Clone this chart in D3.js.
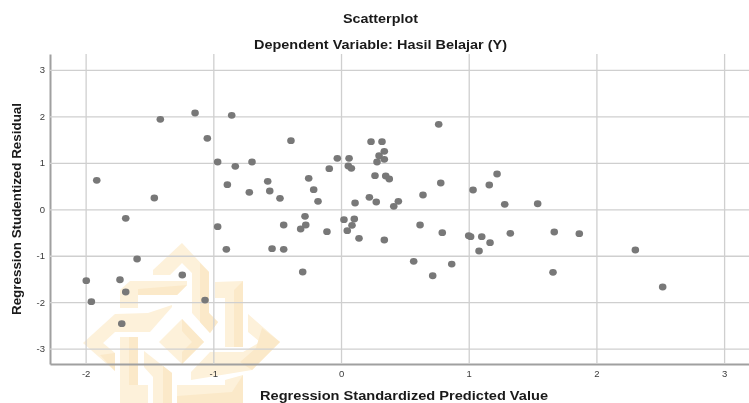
<!DOCTYPE html>
<html><head><meta charset="utf-8">
<script src="https://cdn.jsdelivr.net/npm/d3@7"></script>
<style>
html,body{margin:0;padding:0;background:#fff}
svg{display:block;filter:blur(0.4px)}
text{font-family:"Liberation Sans",Arial,sans-serif}
</style></head><body>
<svg id="c" width="749" height="403"></svg>
<script>
const titleLines = ["Scatterplot", "Dependent Variable: Hasil Belajar (Y)"];
const xLabel = "Regression Standardized Predicted Value";
const yLabel = "Regression Studentized Residual";
const xTicks = [-2, -1, 0, 1, 2, 3];
const yTicks = [-3, -2, -1, 0, 1, 2, 3];
const predicted = [
 -1.913,-1.415,-1.143,-0.856,-1.047,-0.392,0.235,0.321,0.339,0.298,0.339,0.282,0.765,1.222,1.161,1.034,0.781,0.642,0.35,0.378,0.266,
 -0.029,0.063,0.057,0.081,-0.092,-0.253,-0.214,-0.478,-0.18,0.11,0.222,0.276,0.449,0.413,
 -0.966,-0.828,-0.697,-0.89,-0.718,-0.574,-0.558,-1.462,
 -0.282,-0.449,-0.276,-0.316,-0.11,0.023,0.104,0.086,0.049,0.141,0.339,0.619,0.569,-0.54,-0.449,-0.3,
 -1.686,-0.966,-0.898,-1.597,-1.243,-1.995,-1.731,-1.686,-1.955,-1.065,-1.717,
 0.793,1.0,1.015,1.102,1.167,1.081,1.326,1.67,1.866,2.305,1.66,2.519,0.718,0.867,1.282,1.54
];
const residual = [
 0.624,1.937,2.073,2.023,1.528,1.477,1.455,1.455,1.248,1.154,1.076,1.018,1.83,0.76,0.523,0.416,0.566,0.308,0.717,0.652,0.723,
 1.098,1.098,0.932,0.883,0.874,0.667,0.422,0.237,0.172,0.136,0.258,0.157,0.172,0.065,
 1.018,0.926,1.018,0.53,0.366,0.603,0.394,0.243,
 -0.151,-0.338,-0.338,-0.424,-0.482,-0.224,-0.209,-0.344,-0.461,-0.624,-0.661,-0.338,-1.12,-0.848,-0.861,-1.35,
 -0.194,-0.375,-0.861,-1.07,-1.414,-1.537,-1.516,-1.78,-1.989,-1.953,-2.463,
 -0.504,-0.568,-0.59,-0.59,-0.719,-0.898,-0.517,-0.489,-0.525,-0.876,-1.356,-1.673,-1.43,-1.178,0.108,0.12
];
// Background watermark outlines, in the picture's own pixels (decoration, not data)
const watermark = [
 [[153,270],[182,243],[209,272],[209,313],[218,322],[210,333],[192,313],[192,273],[182,263],[170,275],[153,275]],
 [[120,290],[130,281],[187,281],[187,285],[177,295],[138,295],[138,308],[120,308]],
 [[215,282],[243,281],[243,347],[225,347],[225,298],[215,298]],
 [[248,314],[280,342],[252,370],[191,380],[191,372],[210,352],[243,352],[260,342],[248,332]],
 [[83,343],[115,314],[148,313],[172,305],[172,307],[150,332],[115,332],[103,343],[115,353],[115,371]],
 [[182,319],[204,342],[182,364],[159,342]],
 [[120,337],[138,337],[138,385],[148,385],[148,403],[120,403]],
 [[144,351],[172,373],[172,403],[153,403],[153,377],[144,367]],
 [[177,385],[225,385],[225,380],[243,375],[243,403],[177,403]]
];
const watermarkShade = [
 [[200,263],[209,272],[209,313],[218,322],[210,333],[200,322]],
 [[138,289],[187,285],[177,295],[138,295]],
 [[234,290],[243,281],[243,347],[234,347]],
 [[262,328],[280,342],[252,370],[240,362],[256,348]],
 [[182,319],[204,342],[182,364],[182,352],[192,342],[182,331]],
 [[129,337],[138,337],[138,385],[129,385]],
 [[163,366],[172,373],[172,403],[163,403]],
 [[100,355],[115,353],[115,371]],
 [[177,396],[232,392],[243,375],[243,403],[177,403]]
];

const W = 749, H = 403, M = {l: 50, r: 749, t: 54, b: 364};
const x = d3.scaleLinear().domain([-2.279, 3.195]).range([M.l, M.r]);
const y = d3.scaleLinear().domain([-3.33, 3.343]).range([M.b, M.t]);
const tickFmt = d => String(d);
const svg = d3.select("#c");
svg.append("rect").attr("width", W).attr("height", H).attr("fill", "#fff");

svg.append("g").selectAll("polygon").data(watermark).join("polygon")
  .attr("points", d => d.join(" ")).attr("fill", "#fdf1da");
svg.append("g").selectAll("polygon").data(watermarkShade).join("polygon")
  .attr("points", d => d.join(" ")).attr("fill", "#fbe9c9");

const xAxis = svg.append("g").attr("transform", `translate(0,${M.b})`)
  .call(d3.axisBottom(x).tickValues(xTicks).tickFormat(tickFmt).tickSizeInner(-(M.b - M.t)).tickSizeOuter(0).tickPadding(6));
const yAxis = svg.append("g").attr("transform", `translate(${M.l},0)`)
  .call(d3.axisLeft(y).tickValues(yTicks).tickFormat(tickFmt).tickSizeInner(-(M.r - M.l)).tickSizeOuter(0).tickPadding(5));
[xAxis, yAxis].forEach(a => {
  a.selectAll(".tick line").attr("stroke", "#cfcfcf").attr("stroke-width", 1.3);
  a.select(".domain").attr("stroke", "#a0a0a0").attr("stroke-width", 2);
  a.selectAll("text").attr("fill", "#3a3a3a").attr("font-size", 9.5).attr("font-family", '"Liberation Sans",Arial,sans-serif');
});

svg.append("g").selectAll("ellipse").data(predicted).join("ellipse")
  .attr("cx", d => x(d)).attr("cy", (d, i) => y(residual[i]))
  .attr("rx", 3.8).attr("ry", 3.4).attr("fill", "#787878");

svg.append("g").selectAll("text").data(titleLines).join("text")
  .attr("x", 380.5).attr("y", (d, i) => i ? 48.5 : 23)
  .attr("text-anchor", "middle").attr("font-size", 13.6).attr("font-weight", "bold").attr("fill", "#1a1a1a")
  .attr("textLength", (d, i) => i ? 253 : 75).attr("lengthAdjust", "spacingAndGlyphs").text(d => d);
svg.append("text").attr("x", 404).attr("y", 400).attr("text-anchor", "middle")
  .attr("font-size", 13.6).attr("font-weight", "bold").attr("fill", "#1a1a1a")
  .attr("textLength", 288).attr("lengthAdjust", "spacingAndGlyphs").text(xLabel);
svg.append("text").attr("transform", "translate(21,209) rotate(-90)").attr("text-anchor", "middle")
  .attr("font-size", 13.6).attr("font-weight", "bold").attr("fill", "#1a1a1a")
  .attr("textLength", 212).attr("lengthAdjust", "spacingAndGlyphs").text(yLabel);
</script>
</body></html>
